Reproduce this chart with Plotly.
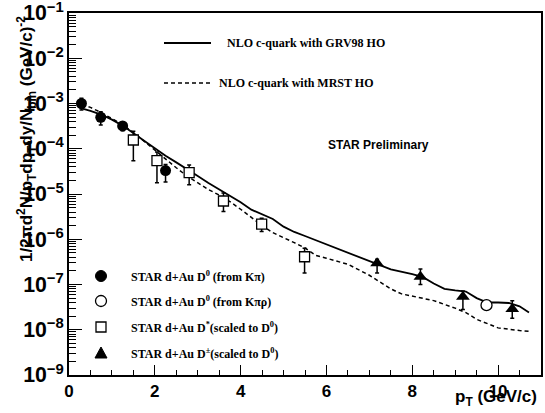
import plotly.graph_objects as go

# ---------------- data ----------------
# D0 from K pi (filled circles)
d0_x = [0.29, 0.74, 1.25, 2.25]
d0_y = [1.0e-3, 4.95e-4, 3.2e-4, 3.3e-5]
d0_ep = [3.0e-4, 1.6e-4, 0.7e-4, 1.2e-5]
d0_em = [2.8e-4, 1.6e-4, 0.7e-4, 1.45e-5]

# D0 from K pi rho (open circle)
d0r_x = [9.73]
d0r_y = [3.5e-8]

# D* scaled to D0 (open squares)
ds_x = [1.5, 2.05, 2.8, 3.6, 4.49, 5.49]
ds_y = [1.56e-4, 5.45e-5, 2.96e-5, 7.0e-6, 2.17e-6, 4.1e-7]
ds_hi = [2.45e-4, 8.5e-5, 4.4e-5, 1.05e-5, 2.9e-6, 6.3e-7]
ds_lo = [5.45e-5, 1.78e-5, 1.6e-5, 4.1e-6, 1.48e-6, 1.8e-7]

# D+- scaled to D0 (filled triangles)
dp_x = [7.18, 8.19, 9.18, 10.33]
dp_y = [2.94e-7, 1.49e-7, 5.37e-8, 2.88e-8]
dp_hi = [3.6e-7, 2.2e-7, 7.2e-8, 4.36e-8]
dp_lo = [1.8e-7, 1.0e-7, 2.8e-8, 1.8e-8]

# NLO c-quark with GRV98 HO (solid)
grv_x = [0.25, 0.5, 0.75, 1.0, 1.25, 1.5, 1.75, 2.0, 2.25, 2.5, 2.75, 3.0, 3.25, 3.5,
         3.75, 4.0, 4.25, 4.5, 4.75, 5.0, 5.25, 5.5, 5.75, 6.0, 6.5, 7.0, 7.5, 8.0,
         8.25, 8.5, 8.75, 9.0, 9.25, 9.5, 9.75, 10.0, 10.25, 10.5, 10.72]
grv_y = [8.0e-4, 6.9e-4, 5.7e-4, 4.4e-4, 3.25e-4, 2.25e-4, 1.5e-4, 1.03e-4, 7.0e-5,
         5.0e-5, 3.6e-5, 2.5e-5, 1.75e-5, 1.25e-5, 9.3e-6, 6.6e-6, 4.5e-6, 3.5e-6,
         2.8e-6, 1.9e-6, 1.45e-6, 1.18e-6, 9.5e-7, 7.8e-7, 5.0e-7, 3.3e-7, 2.15e-7,
         1.7e-7, 1.45e-7, 1.05e-7, 8.0e-8, 7.4e-8, 7.0e-8, 5.0e-8, 4.0e-8, 4.0e-8,
         3.9e-8, 3.3e-8, 2.4e-8]

# NLO c-quark with MRST HO (dashed)
mrst_x = [0.3, 0.5, 0.75, 1.0, 1.25, 1.5, 1.75, 2.0, 2.25, 2.5, 2.75, 3.0, 3.25, 3.5,
          3.75, 4.0, 4.25, 4.5, 4.75, 5.0, 5.25, 5.5, 5.75, 6.0, 6.5, 7.0, 7.25, 7.5,
          7.75, 8.0, 8.5, 9.0, 9.25, 9.5, 9.75, 10.0, 10.5, 10.72]
mrst_y = [9.5e-4, 8.2e-4, 6.3e-4, 4.7e-4, 3.4e-4, 2.3e-4, 1.45e-4, 9.3e-5, 6.0e-5,
          3.8e-5, 2.5e-5, 1.75e-5, 1.25e-5, 9.5e-6, 6.8e-6, 4.6e-6, 3.0e-6, 2.0e-6,
          1.4e-6, 1.1e-6, 8.4e-7, 6.4e-7, 4.4e-7, 3.8e-7, 2.8e-7, 1.6e-7, 1.15e-7,
          8.0e-8, 6.2e-8, 5.5e-8, 4.4e-8, 3.0e-8, 2.4e-8, 1.7e-8, 1.35e-8, 1.1e-8,
          9.6e-9, 9.2e-9]

curve_labels = ["NLO c-quark with GRV98 HO", "NLO c-quark with MRST HO"]
marker_labels = ["STAR d+Au D<sup>0</sup> (from K\u03c0)",
                 "STAR d+Au D<sup>0</sup> (from K\u03c0\u03c1)",
                 "STAR d+Au D<sup>*</sup>(scaled to D<sup>0</sup>)",
                 "STAR d+Au D<sup>\u00b1</sup>(scaled to D<sup>0</sup>)"]

# ---------------- figure ----------------
W, H = 545, 413
L, R, T, B = 69, 4, 13, 38
PW, PH = W - L - R, H - T - B


def px(x):
    return (x - L) / PW


def py(y):
    return (H - B - y) / PH


fig = go.Figure()

fig.add_trace(go.Scatter(x=grv_x, y=grv_y, mode="lines",
                         line=dict(color="black", width=1.8), showlegend=False))
fig.add_trace(go.Scatter(x=mrst_x, y=mrst_y, mode="lines",
                         line=dict(color="black", width=1.5, dash="4px,3px"),
                         showlegend=False))


def asym(y, hi, lo):
    return [h - v for h, v in zip(hi, y)], [v - l for v, l in zip(y, lo)]


ds_p, ds_m = asym(ds_y, ds_hi, ds_lo)
dp_p, dp_m = asym(dp_y, dp_hi, dp_lo)

err = dict(type="data", color="black", thickness=1.5, width=2, symmetric=False)

fig.add_trace(go.Scatter(x=d0_x, y=d0_y, mode="markers",
                         marker=dict(symbol="circle", size=11, color="black"),
                         error_y=dict(array=d0_ep, arrayminus=d0_em, **err),
                         showlegend=False))
fig.add_trace(go.Scatter(x=d0r_x, y=d0r_y, mode="markers",
                         marker=dict(symbol="circle", size=11, color="white",
                                     line=dict(color="black", width=1.3)),
                         showlegend=False))
fig.add_trace(go.Scatter(x=ds_x, y=ds_y, mode="markers",
                         marker=dict(symbol="square", size=10, color="white",
                                     line=dict(color="black", width=1.3)),
                         error_y=dict(array=ds_p, arrayminus=ds_m, **err),
                         showlegend=False))
fig.add_trace(go.Scatter(x=dp_x, y=dp_y, mode="markers",
                         marker=dict(symbol="triangle-up", size=12, color="black"),
                         error_y=dict(array=dp_p, arrayminus=dp_m, **err),
                         showlegend=False))

serif = dict(family="Liberation Serif", size=12, color="black", weight="bold")
sans = dict(family="Liberation Sans", size=17, color="black", weight="bold")

shapes = []
annotations = []

# curve legend
shapes.append(dict(type="line", xref="paper", yref="paper", x0=px(164), x1=px(211),
                   y0=py(43), y1=py(43), line=dict(color="black", width=1.8)))
shapes.append(dict(type="line", xref="paper", yref="paper", x0=px(164), x1=px(210),
                   y0=py(83), y1=py(83), line=dict(color="black", width=1.5, dash="4px,3px")))
annotations.append(dict(text=curve_labels[0], xref="paper", yref="paper", x=px(225), y=py(43),
                        xanchor="left", yanchor="middle", showarrow=False, font=serif))
annotations.append(dict(text=curve_labels[1], xref="paper", yref="paper", x=px(217), y=py(83),
                        xanchor="left", yanchor="middle", showarrow=False, font=serif))

# marker legend
ly = [276, 301, 327, 353]
mx = px(101)
shapes.append(dict(type="circle", xref="paper", yref="paper", xsizemode="pixel", ysizemode="pixel",
                   xanchor=mx, yanchor=py(ly[0]), x0=-5.5, x1=5.5, y0=-5.5, y1=5.5,
                   fillcolor="black", line=dict(color="black", width=1)))
shapes.append(dict(type="circle", xref="paper", yref="paper", xsizemode="pixel", ysizemode="pixel",
                   xanchor=mx, yanchor=py(ly[1]), x0=-5.5, x1=5.5, y0=-5.5, y1=5.5,
                   fillcolor="white", line=dict(color="black", width=1.3)))
shapes.append(dict(type="rect", xref="paper", yref="paper", xsizemode="pixel", ysizemode="pixel",
                   xanchor=mx, yanchor=py(ly[2]), x0=-5, x1=5, y0=-5, y1=5,
                   fillcolor="white", line=dict(color="black", width=1.3)))
shapes.append(dict(type="path", xref="paper", yref="paper", xsizemode="pixel", ysizemode="pixel",
                   xanchor=mx, yanchor=py(ly[3]), path="M-6,-5 L6,-5 L0,6 Z",
                   fillcolor="black", line=dict(color="black", width=1)))
for lab, yy in zip(marker_labels, ly):
    annotations.append(dict(text=lab, xref="paper", yref="paper", x=px(129), y=py(yy),
                            xanchor="left", yanchor="middle", showarrow=False, font=serif))

annotations.append(dict(text="STAR Preliminary", xref="paper", yref="paper", x=px(378), y=py(145),
                        xanchor="center", yanchor="middle", showarrow=False,
                        font=dict(family="Liberation Sans", size=12, color="black", weight="bold")))

annotations.append(dict(text="p<sub>T</sub> (GeV/c)", xref="paper", yref="paper", x=px(539), y=py(398),
                        xanchor="right", yanchor="middle", showarrow=False, font=sans))
annotations.append(dict(text="1/2\u03c0d<sup>2</sup>N/p<sub>T</sub>dp<sub>T</sub>dy/N<sub>bin</sub> (GeV/c)<sup>-2</sup>",
                        xref="paper", yref="paper", x=px(26), y=py(14), textangle=-90,
                        xanchor="center", yanchor="top", showarrow=False, font=sans))

fig.update_layout(
    width=W, height=H,
    margin=dict(l=L, r=R, t=T, b=B, autoexpand=False),
    paper_bgcolor="white", plot_bgcolor="white",
    shapes=shapes, annotations=annotations,
    showlegend=False,
)
fig.update_xaxes(range=[0, 11], dtick=2, tick0=0, ticks="inside", ticklen=10, tickwidth=1.3,
                 tickcolor="black", showline=True, linecolor="black", linewidth=1.6, mirror=True,
                 showgrid=False, zeroline=False, tickfont=sans, automargin=False,
                 ticklabeloverflow="allow",
                 minor=dict(dtick=0.5, ticks="inside", ticklen=5, tickwidth=1.2, tickcolor="black",
                            showgrid=False))
fig.update_yaxes(type="log", range=[-9, -1], dtick=1, exponentformat="power", ticks="inside",
                 ticklen=13, tickwidth=1.3, tickcolor="black", showline=True, linecolor="black",
                 linewidth=1.6, mirror=True, showgrid=False, zeroline=False, tickfont=sans,
                 automargin=False, ticklabeloverflow="allow",
                 minor=dict(dtick="D1", ticks="inside", ticklen=7, tickwidth=1.2, tickcolor="black",
                            showgrid=False))

fig.write_html("out.html", config={"displayModeBar": False},
               post_script="document.body.style.margin='0';")
